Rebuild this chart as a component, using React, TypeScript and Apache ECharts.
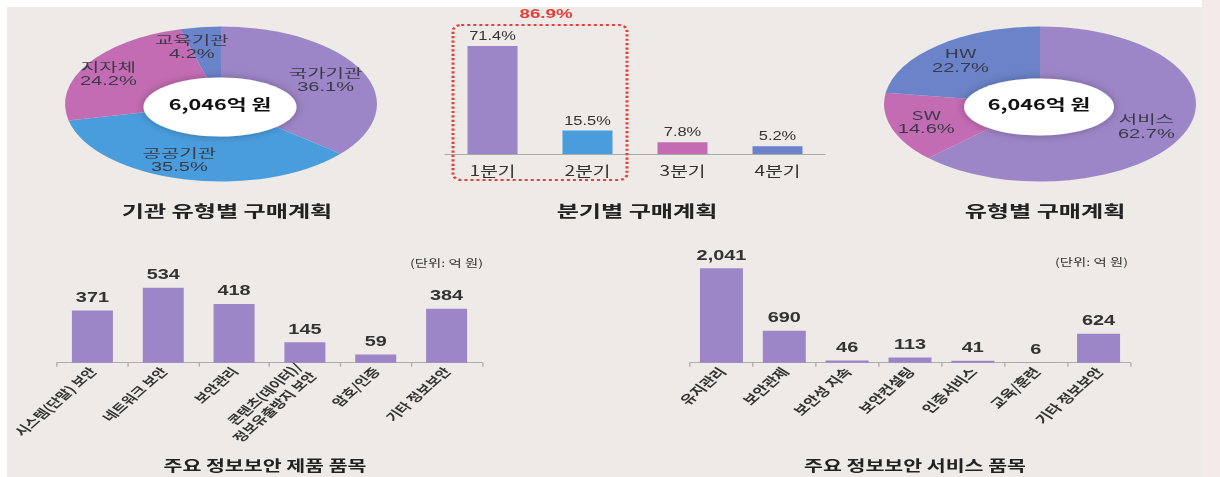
import React, { useEffect, useRef } from "react";
import * as echarts from "echarts";

// ---- data ----
const orgNames = ["국가기관", "공공기관", "지자체", "교육기관"];
const orgShares = [36.1, 35.5, 24.2, 4.2];
const typeNames = ["서비스", "SW", "HW"];
const typeShares = [62.7, 14.6, 22.7];
const totalLabel = "6,046억 원";
const quarterNames = ["1분기", "2분기", "3분기", "4분기"];
const quarterShares = [71.4, 15.5, 7.8, 5.2];
const productNames = [
  "시스템(단말) 보안",
  "네트워크 보안",
  "보안관리",
  "콘텐츠(데이터)/\n정보유출방지 보안",
  "암호/인증",
  "기타 정보보안",
];
const productValues = [371, 534, 418, 145, 59, 384];
const serviceNames = [
  "유지관리",
  "보안관제",
  "보안성 지속",
  "보안컨설팅",
  "인증서비스",
  "교육/훈련",
  "기타 정보보안",
];
const serviceValues = [2041, 690, 46, 113, 41, 6, 624];
const titles = [
  "기관 유형별 구매계획",
  "분기별 구매계획",
  "유형별 구매계획",
  "주요 정보보안 제품 품목",
  "주요 정보보안 서비스 품목",
];
const unitLabel = "(단위: 억 원)";

// ---- styles ----
const PURPLE = "#9d86c7";
const BLUE = "#4a9ddd";
const PINK = "#c46cb3";
const INDIGO = "#6b83c8";
const orgColors = [PURPLE, BLUE, PINK, INDIGO];
const typeColors = [PURPLE, PINK, INDIGO];
const quarterColors = [PURPLE, BLUE, PINK, INDIGO];
const FF = '"Noto Sans CJK KR", "Noto Sans", sans-serif';
const NF = '"Liberation Sans", Arial, sans-serif';

const S = 1.37;
const W = 1220 / S;
const H = 477;
const sx = (x: number) => x / S;

function donut(names: string[], shares: number[], colors: string[], cxRef: number, f: number, shiftRef: number) {
  const cx = sx(cxRef);
  const cy = 104;
  const ry = 77.5;
  const rx = sx(156);
  const total = shares.reduce((a, b) => a + b, 0);
  return {
    type: "custom",
    coordinateSystem: "none",
    silent: true,
    z: 2,
    data: shares,
    renderItem: (params: any, api: any) => {
      const i = params.dataIndex;
      let before = 0;
      for (let k = 0; k < i; k++) before += shares[k];
      const v = api.value(0);
      const s0 = before / total;
      const s1 = (before + v) / total;
      const a0 = -Math.PI / 2 + s0 * Math.PI * 2;
      const a1 = -Math.PI / 2 + s1 * Math.PI * 2;
      const m = ((s0 + s1) / 2) * Math.PI * 2;
      const lx = cx + Math.sin(m) * rx * f - (Math.sin(m) < 0 ? sx(shiftRef) : 0);
      const ly = cy - Math.cos(m) * ry * f;
      return {
        type: "group",
        children: [
          {
            type: "sector",
            x: cx,
            y: cy,
            scaleX: rx / ry,
            shape: { cx: 0, cy: 0, r: ry, r0: 0, startAngle: a0, endAngle: a1, clockwise: true },
            style: { fill: colors[i] },
          },
          {
            type: "text",
            x: lx,
            y: ly,
            scaleX: 1.22,
            z2: 10,
            style: {
              text: "{n|" + names[i] + "}\n{p|" + v + "%}",
              align: "center",
              verticalAlign: "middle",
              textAlign: "center",
              textVerticalAlign: "middle",
              fill: "#3a3a48",
              rich: {
                n: { fontSize: 12, lineHeight: 14.5, fontFamily: FF, fill: "#3a3a48", align: "center" },
                p: { fontSize: 12, lineHeight: 14.5, fontFamily: NF, fill: "#3a3a48", align: "center" },
              },
            },
          },
        ],
      };
    },
  };
}

function centerText(
  x: number,
  y: number,
  text: string,
  size: number,
  color: string,
  weight: string,
  opts: { align?: string; scaleX?: number; family?: string } = {}
) {
  const align = opts.align || "center";
  return {
    type: "text",
    x,
    y,
    z: 60,
    scaleX: opts.scaleX || 1,
    silent: true,
    style: {
      text,
      align,
      verticalAlign: "middle",
      textAlign: align,
      textVerticalAlign: "middle",
      fontSize: size,
      fontWeight: weight,
      fontFamily: opts.family || FF,
      fill: color,
    },
  };
}

export default function App() {
  const ref = useRef<HTMLDivElement>(null);
  useEffect(() => {
    if (!ref.current) return;
    const chart = echarts.init(ref.current, null, { renderer: "svg", width: W, height: H });
    const axisColor = "#b3abab";
    const valueLabel = {
      show: true,
      position: "top",
      distance: 6,
      fontSize: 14.5,
      fontWeight: "bold",
      color: "#333333",
      fontFamily: NF,
      formatter: (p: any) => Number(p.value).toLocaleString("en-US"),
    };
    const option: any = {
      animation: false,
      backgroundColor: "#ffffff",
      textStyle: { fontFamily: FF },
      graphic: [
        { type: "rect", z: -10, silent: true, shape: { x: sx(7), y: 7, width: sx(1195), height: 470 }, style: { fill: "#eeeae7" } },
        { type: "rect", z: -10, silent: true, shape: { x: sx(1202), y: 0, width: sx(18), height: 477 }, style: { fill: "#f5eaea" } },
        // donut holes
        { type: "ellipse", z: 50, silent: true, shape: { cx: sx(220), cy: 107, rx: sx(76.5), ry: 29.5 }, style: { fill: "#ffffff", shadowBlur: 8, shadowColor: "rgba(0,0,0,0.28)" } },
        { type: "ellipse", z: 50, silent: true, shape: { cx: sx(1039), cy: 107, rx: sx(75), ry: 28.5 }, style: { fill: "#ffffff", shadowBlur: 8, shadowColor: "rgba(0,0,0,0.28)" } },
        centerText(sx(220), 103, totalLabel, 15, "#111111", "bold", { scaleX: 1.05 }),
        centerText(sx(1039), 103, totalLabel, 15, "#111111", "bold", { scaleX: 1.05 }),
        // quarter highlight
        {
          type: "rect",
          z: 50,
          silent: true,
          shape: { x: sx(453), y: 25, width: sx(174), height: 155, r: 6 },
          style: { fill: "none", stroke: "#e2413b", lineWidth: 2.2, lineDash: [2.2, 2.2] },
        },
        centerText(sx(546), 13, (quarterShares[0] + quarterShares[1]).toFixed(1) + "%", 13, "#e2413b", "bold", { family: NF, scaleX: 1.05 }),
        // titles
        centerText(sx(227), 210, titles[0], 16, "#222222", "bold", { scaleX: 1.1 }),
        centerText(sx(637), 210, titles[1], 16, "#222222", "bold", { scaleX: 1.1 }),
        centerText(sx(1045), 210, titles[2], 16, "#222222", "bold", { scaleX: 1.1 }),
        centerText(sx(265), 464, titles[3], 15, "#222222", "bold"),
        centerText(sx(915), 464, titles[4], 15, "#222222", "bold"),
        centerText(sx(483), 262, unitLabel, 10.5, "#333333", "normal", { align: "right" }),
        centerText(sx(1128), 261, unitLabel, 10.5, "#333333", "normal", { align: "right" }),
      ],
      grid: [
        { left: sx(445), top: 33, width: sx(380), height: 121 },
        { left: sx(57), top: 278.4, width: sx(425), height: 84.3 },
        { left: sx(690), top: 251.7, width: sx(440), height: 111 },
      ],
      xAxis: [
        {
          gridIndex: 0,
          type: "category",
          data: quarterNames,
          axisLine: { lineStyle: { color: "#aaaaaa", width: 1 } },
          axisTick: { show: false },
          axisLabel: { color: "#333333", fontSize: 14, margin: 9, fontFamily: FF },
        },
        {
          gridIndex: 1,
          type: "category",
          data: productNames,
          axisLine: { lineStyle: { color: axisColor, width: 1 } },
          axisTick: { show: true, length: 4, lineStyle: { color: axisColor } },
          axisLabel: { color: "#333333", fontSize: 11.5, fontWeight: "bold", rotate: 50, interval: 0, margin: 6, lineHeight: 14, fontFamily: FF },
        },
        {
          gridIndex: 2,
          type: "category",
          data: serviceNames,
          axisLine: { lineStyle: { color: axisColor, width: 1 } },
          axisTick: { show: true, length: 4, lineStyle: { color: axisColor } },
          axisLabel: { color: "#333333", fontSize: 12, fontWeight: "bold", rotate: 50, interval: 0, margin: 6, fontFamily: FF },
        },
      ],
      yAxis: [
        { gridIndex: 0, type: "value", min: 0, max: 80, show: false },
        { gridIndex: 1, type: "value", min: 0, max: 600, show: false },
        { gridIndex: 2, type: "value", min: 0, max: 2400, show: false },
      ],
      series: [
        donut(orgNames, orgShares, orgColors, 221, 0.74, 14),
        donut(typeNames, typeShares, typeColors, 1040, 0.74, 4),
        {
          type: "bar",
          xAxisIndex: 0,
          yAxisIndex: 0,
          barWidth: sx(50),
          silent: true,
          data: quarterShares.map((v, i) => ({ value: v, itemStyle: { color: quarterColors[i] } })),
          label: { show: true, position: "top", distance: 4, formatter: "{c}%", fontSize: 12, color: "#333333", fontFamily: NF },
        },
        {
          type: "bar",
          xAxisIndex: 1,
          yAxisIndex: 1,
          barWidth: sx(41),
          silent: true,
          itemStyle: { color: PURPLE },
          data: productValues,
          label: valueLabel,
        },
        {
          type: "bar",
          xAxisIndex: 2,
          yAxisIndex: 2,
          barWidth: sx(43),
          silent: true,
          itemStyle: { color: PURPLE },
          data: serviceValues,
          label: valueLabel,
        },
      ],
    };
    chart.setOption(option);
    return () => chart.dispose();
  }, []);
  return (
    <div style={{ position: "absolute", left: 0, top: 0, width: 1220, height: 477, overflow: "hidden", background: "#ffffff" }}>
      <div ref={ref} style={{ width: W, height: H, transform: `scaleX(${S})`, transformOrigin: "0 0" }} />
    </div>
  );
}
